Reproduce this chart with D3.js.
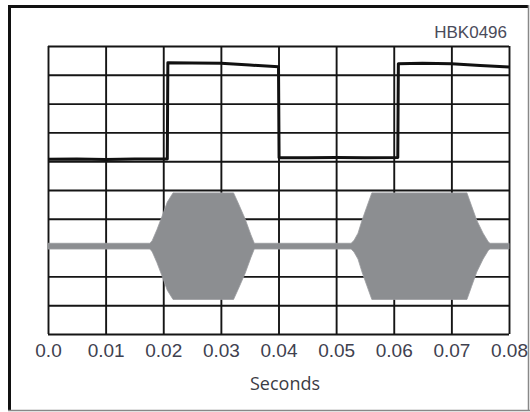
<!DOCTYPE html>
<html>
<head>
<meta charset="utf-8">
<script src="https://cdn.jsdelivr.net/npm/d3@7"></script>
<style>
  body { margin: 0; background: #fff; }
  svg { display: block; }
  .tick-label { font-family: "Liberation Sans", Arial, sans-serif; font-size: 19px; fill: #40414f; }
  .axis-label { font-family: "Open Sans", sans-serif; font-size: 18px; fill: #3b3c44; }
  .tag { font-family: "Liberation Sans", Arial, sans-serif; font-size: 17px; fill: #4a4b5a; }
</style>
</head>
<body>
<svg id="chart"></svg>
<script>
// x ticks (seconds)
const xTicks = [0, 0.01, 0.02, 0.03, 0.04, 0.05, 0.06, 0.07, 0.08];
const xTickLabels = ['0.0', '0.01', '0.02', '0.03', '0.04', '0.05', '0.06', '0.07', '0.08'];
// y grid in divisions
const yGrid = [0, 1, 2, 3, 4, 5, 6, 7, 8, 9, 10];

// gating square wave (divisions)
const squareT = [0, 0.005, 0.01, 0.015, 0.0207, 0.0208, 0.025, 0.03, 0.035, 0.0400, 0.0401,
  0.045, 0.05, 0.055, 0.0607, 0.0608, 0.065, 0.07, 0.075, 0.08];
const squareV = [6.07, 6.08, 6.06, 6.08, 6.08, 9.42, 9.41, 9.40, 9.34, 9.28, 6.12,
  6.12, 6.13, 6.12, 6.13, 9.38, 9.40, 9.38, 9.32, 9.27];

// tone burst envelope: time and half amplitude (divisions)
const burstCenter = 3.05;
const burstT = [0, 0.0177, 0.0181, 0.0189, 0.0198, 0.0207, 0.0217, 0.0322, 0.0330, 0.0342, 0.0352, 0.0358,
  0.0526, 0.0531, 0.0538, 0.0545, 0.0553, 0.0562, 0.0727, 0.0735, 0.0744, 0.0755, 0.0764, 0.0767, 0.08];
const burstAmp = [0.1, 0.1, 0.2, 0.57, 1.04, 1.53, 1.85, 1.85, 1.5, 0.95, 0.4, 0.1,
  0.1, 0.2, 0.45, 0.9, 1.35, 1.85, 1.85, 1.4, 0.9, 0.45, 0.15, 0.1, 0.1];

const config = {
  width: 530,
  height: 412,
  margin: { top: 46, right: 21, bottom: 78, left: 48 }
};

const innerW = config.width - config.margin.left - config.margin.right;
const innerH = config.height - config.margin.top - config.margin.bottom;

const svg = d3.select('#chart')
  .attr('width', config.width)
  .attr('height', config.height);

svg.append('rect')
  .attr('width', config.width)
  .attr('height', config.height)
  .attr('fill', '#fff');

// outer frame: dark top/left, grey bottom/right
svg.append('line').attr('x1', 8).attr('x2', 529).attr('y1', 6.5).attr('y2', 6.5)
  .attr('stroke', '#111').attr('stroke-width', 3);
svg.append('line').attr('x1', 9.5).attr('x2', 9.5).attr('y1', 5).attr('y2', 411)
  .attr('stroke', '#111').attr('stroke-width', 3);
svg.append('line').attr('x1', 8).attr('x2', 530).attr('y1', 410.5).attr('y2', 410.5)
  .attr('stroke', '#888').attr('stroke-width', 1.5);
svg.append('line').attr('x1', 528.5).attr('x2', 528.5).attr('y1', 5).attr('y2', 411)
  .attr('stroke', '#888').attr('stroke-width', 1.5);

const chart = svg.append('g')
  .attr('transform', `translate(${config.margin.left},${config.margin.top})`);

const xScale = d3.scaleLinear().domain([0, 0.08]).range([0, innerW]);
const yScale = d3.scaleLinear().domain([0, 10]).range([innerH, 0]);

// grid via axes
const xAxis = d3.axisBottom(xScale)
  .tickValues(xTicks)
  .tickSize(-innerH)
  .tickSizeOuter(0)
  .tickPadding(10)
  .tickFormat((d, i) => xTickLabels[i]);

const xAxisG = chart.append('g')
  .attr('transform', `translate(0,${innerH})`)
  .call(xAxis);
xAxisG.select('.domain').remove();
xAxisG.selectAll('line').attr('stroke', '#151515').attr('stroke-width', 1.9);
xAxisG.selectAll('text').attr('class', 'tick-label').attr('fill', null);

const yAxis = d3.axisLeft(yScale)
  .tickValues(yGrid)
  .tickSize(-innerW)
  .tickSizeOuter(0)
  .tickFormat('');

const yAxisG = chart.append('g').call(yAxis);
yAxisG.select('.domain').remove();
yAxisG.selectAll('line').attr('stroke', '#151515').attr('stroke-width', 1.9);

// tone burst
const burst = burstT.map((t, i) => ({ t, a: burstAmp[i] }));
const area = d3.area()
  .x(d => xScale(d.t))
  .y0(d => yScale(burstCenter - d.a))
  .y1(d => yScale(burstCenter + d.a));

chart.append('path')
  .datum(burst)
  .attr('d', area)
  .attr('fill', '#8c8e91')
  .attr('stroke', '#9a9c9f')
  .attr('stroke-width', 0.8);

// square wave
const square = squareT.map((t, i) => ({ t, v: squareV[i] }));
const line = d3.line()
  .x(d => xScale(d.t))
  .y(d => yScale(d.v));

chart.append('path')
  .datum(square)
  .attr('d', line)
  .attr('fill', 'none')
  .attr('stroke', '#111')
  .attr('stroke-width', 3)
  .attr('stroke-linejoin', 'round');

// labels
svg.append('text')
  .attr('class', 'axis-label')
  .attr('x', 285)
  .attr('y', 390)
  .attr('text-anchor', 'middle')
  .text('Seconds');

svg.append('text')
  .attr('class', 'tag')
  .attr('x', 507)
  .attr('y', 38)
  .attr('text-anchor', 'end')
  .text('HBK0496');
</script>
</body>
</html>
